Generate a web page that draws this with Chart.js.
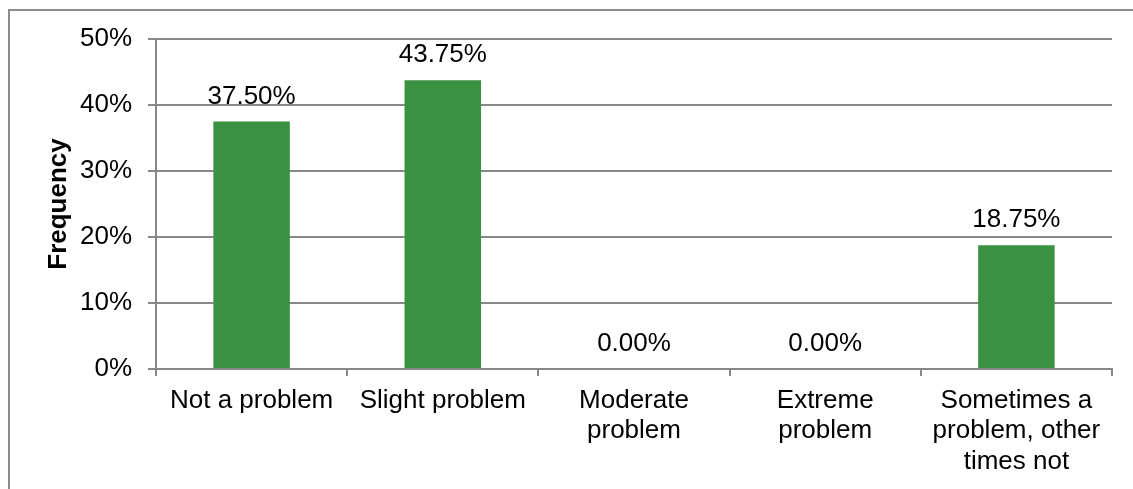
<!DOCTYPE html>
<html>
<head>
<meta charset="utf-8">
<script src="https://cdn.jsdelivr.net/npm/chart.js@4.4.1/dist/chart.umd.min.js"></script>
<style>
  html, body { margin: 0; padding: 0; background: #fff; }
  #chart { display: block; }
</style>
</head>
<body>
<canvas id="chart" width="1133" height="489"></canvas>
<script>
const categories = [
    'Not a problem',
    'Slight problem',
    ['Moderate', 'problem'],
    ['Extreme', 'problem'],
    ['Sometimes a', 'problem, other', 'times not']
];
const frequency = [37.5, 43.75, 0, 0, 18.75];
const yTicks = [0, 10, 20, 30, 40, 50];

const GRID = '#888888';
const BAR = '#3a9142';
const FONT = "'Liberation Sans', Arial, sans-serif";

// cadre gris + fond blanc
const framePlugin = {
    id: 'frame',
    beforeDraw(chart) {
        const ctx = chart.ctx;
        ctx.save();
        ctx.fillStyle = '#fff';
        ctx.fillRect(0, 0, chart.width, chart.height);
        ctx.strokeStyle = '#8c8c8c';
        ctx.lineWidth = 2;
        ctx.strokeRect(9, 10, 1300, 700);
        ctx.restore();
    }
};

// étiquettes de valeurs au-dessus des barres
const valueLabels = {
    id: 'valueLabels',
    afterDatasetsDraw(chart) {
        const ctx = chart.ctx;
        const meta = chart.getDatasetMeta(0);
        ctx.save();
        ctx.font = '26px ' + FONT;
        ctx.fillStyle = '#000';
        ctx.textAlign = 'center';
        ctx.textBaseline = 'alphabetic';
        meta.data.forEach((bar, i) => {
            ctx.fillText(frequency[i].toFixed(2) + '%', bar.x, bar.y - 18);
        });
        ctx.restore();
    }
};

new Chart(document.getElementById('chart'), {
    type: 'bar',
    data: {
        labels: categories,
        datasets: [{
            data: frequency,
            backgroundColor: BAR,
            borderWidth: 0,
            barPercentage: 0.4,
            categoryPercentage: 1.0
        }]
    },
    options: {
        responsive: false,
        animation: false,
        devicePixelRatio: 1,
        layout: { padding: { left: 0, top: 39, right: 21, bottom: 0 } },
        plugins: {
            legend: { display: false },
            tooltip: { enabled: false }
        },
        scales: {
            x: {
                grid: {
                    offset: true,
                    drawOnChartArea: false,
                    drawTicks: true,
                    tickLength: 7,
                    color: GRID,
                    lineWidth: 2
                },
                border: { display: true, color: GRID, width: 2 },
                ticks: {
                    color: '#000',
                    padding: 10,
                    maxRotation: 0,
                    autoSkip: false,
                    font: { family: FONT, size: 26, lineHeight: 1.16 }
                },
                afterFit: s => { s.height = 120; }
            },
            y: {
                min: 0,
                max: 50,
                afterBuildTicks: s => { s.ticks = yTicks.map(v => ({ value: v })); },
                grid: { color: GRID, lineWidth: 2, tickLength: 8 },
                border: { display: true, color: GRID, width: 2 },
                ticks: {
                    color: '#000',
                    padding: 16,
                    callback: v => v + '%',
                    font: { family: FONT, size: 26 }
                },
                title: {
                    display: true,
                    text: 'Frequency',
                    color: '#000',
                    padding: { top: 43, bottom: 0 },
                    font: { family: FONT, size: 26, weight: 'bold', lineHeight: 1.2 }
                },
                afterFit: s => { s.width = 156; }
            }
        }
    },
    plugins: [framePlugin, valueLabels]
});
</script>
</body>
</html>
